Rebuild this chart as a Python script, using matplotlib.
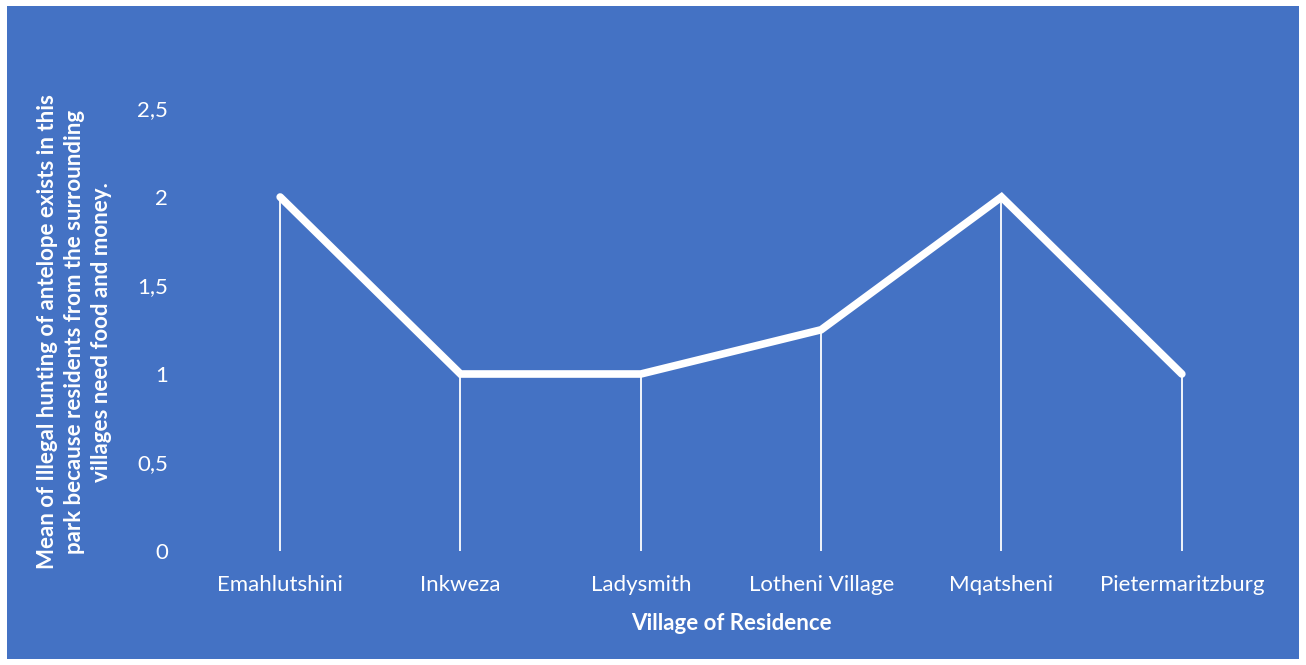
import matplotlib
matplotlib.use("Agg")
import matplotlib.pyplot as plt
from matplotlib.patches import Rectangle
from matplotlib.ticker import FuncFormatter

plt.rcParams["font.family"] = ["Lato", "DejaVu Sans"]

villages = ["Emahlutshini", "Inkweza", "Ladysmith", "Lotheni Village",
            "Mqatsheni", "Pietermaritzburg"]
means = [2.0, 1.0, 1.0, 1.25, 2.0, 1.0]
y_ticks = [0, 0.5, 1, 1.5, 2, 2.5]

BLUE = "#4472C4"
W, H = 1306, 665

fig = plt.figure(figsize=(W / 100, H / 100), dpi=100, facecolor="white")
# blue chart area with a thin white margin round it
fig.patches.append(Rectangle((7 / W, 6 / H), (1299 - 7) / W, (659 - 6) / H,
                             transform=fig.transFigure, facecolor=BLUE,
                             edgecolor="none", zorder=-5))

ax = fig.add_axes([190 / W, 1 - 551 / H, (1272 - 190) / W, (551 - 108.5) / H])
ax.set_facecolor("none")

x = list(range(len(villages)))
ax.vlines(x, 0, means, colors="white", linewidth=1.3)
ax.plot(x, means, color="white", linewidth=5.5, solid_capstyle="round",
        solid_joinstyle="miter")

ax.set_xlim(-0.5, len(villages) - 0.5)
ax.set_ylim(0, 2.5)
ax.set_yticks(y_ticks)
ax.yaxis.set_major_formatter(FuncFormatter(lambda v, p: f"{v:g}".replace(".", ",")))
ax.set_xticks(x)
ax.set_xticklabels(villages)
ax.tick_params(axis="both", length=0, colors="white", labelsize=16)
ax.tick_params(axis="y", pad=16)
ax.tick_params(axis="x", pad=17)
for s in ax.spines.values():
    s.set_visible(False)

ax.set_xlabel("Village of Residence", color="white", fontsize=16,
              fontweight="bold", labelpad=13)
ax.set_ylabel("Mean of Illegal hunting of antelope exists in this\n"
              "park because residents from the surrounding\n"
              "villages need food and money.",
              color="white", fontsize=16, fontweight="bold",
              linespacing=1.35)
ax.yaxis.set_label_coords((112 - 190) / 1082, 0.495)

fig.savefig("out.png", dpi=100, facecolor="white")
